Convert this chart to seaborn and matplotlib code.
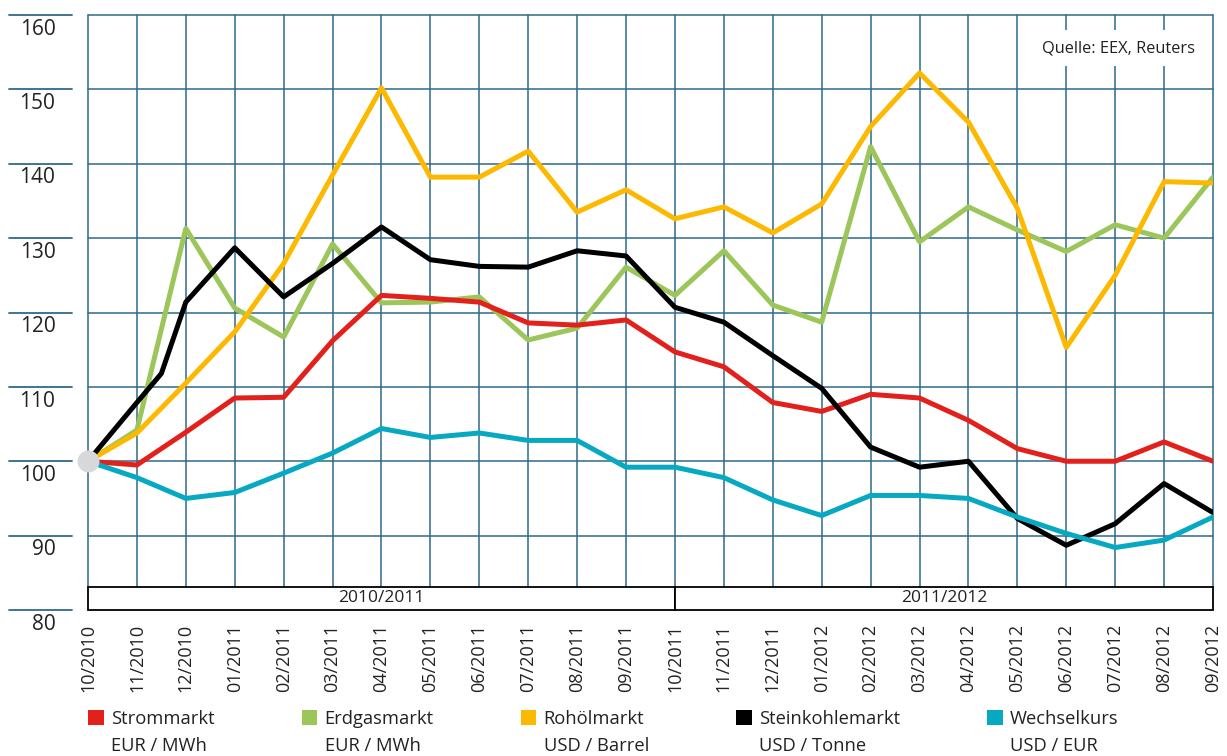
import numpy as np
import pandas as pd
import seaborn as sns
import matplotlib.pyplot as plt
from matplotlib.patches import Patch, Rectangle

# month labels (x axis)
months = ['10/2010', '11/2010', '12/2010', '01/2011', '02/2011', '03/2011',
          '04/2011', '05/2011', '06/2011', '07/2011', '08/2011', '09/2011',
          '10/2011', '11/2011', '12/2011', '01/2012', '02/2012', '03/2012',
          '04/2012', '05/2012', '06/2012', '07/2012', '08/2012', '09/2012']
month_pos = list(range(len(months)))

# index values (10/2010 = 100)
strom = [100, 99.5, 103.9, 108.5, 108.6, 116.2, 122.3, 121.9, 121.4, 118.6, 118.3, 119.0,
         114.7, 112.7, 107.9, 106.7, 109.0, 108.5, 105.5, 101.7, 100.0, 100.0, 102.6, 100.0]
erdgas = [100, 104.2, 131.3, 120.6, 116.7, 129.2, 121.3, 121.4, 122.1, 116.3, 117.9, 126.1,
          122.3, 128.3, 121.0, 118.7, 142.3, 129.5, 134.2, 131.1, 128.2, 131.8, 130.0, 138.2]
rohoel = [100, 103.8, 110.5, 117.4, 126.6, 138.5, 150.2, 138.2, 138.2, 141.7, 133.5, 136.5,
          132.6, 134.2, 130.7, 134.6, 145.0, 152.2, 145.6, 134.0, 115.3, 125.0, 137.6, 137.4]
# coal series has one extra reading in mid 11/2010
kohle_pos = [0, 1, 1.5] + list(range(2, 24))
kohle = [100, 107.9, 111.8, 121.4, 128.7, 122.1, 126.6, 131.5, 127.1, 126.2, 126.1, 128.3,
         127.6, 120.7, 118.7, 114.2, 109.8, 101.9, 99.2, 100.0, 92.3, 88.7, 91.6, 97.0, 93.1]
wechsel = [100, 97.8, 95.0, 95.8, 98.4, 101.1, 104.4, 103.2, 103.8, 102.8, 102.8, 99.2,
           99.2, 97.8, 94.8, 92.7, 95.4, 95.4, 95.0, 92.5, 90.3, 88.4, 89.4, 92.5]

series_names = ['Strommarkt', 'Erdgasmarkt', 'Rohölmarkt', 'Steinkohlemarkt', 'Wechselkurs']
units = ['EUR / MWh', 'EUR / MWh', 'USD / Barrel', 'USD / Tonne', 'USD / EUR']
colors = ['#e3211c', '#9cc65a', '#fcb900', '#000000', '#07a9c2']
draw_order = ['Erdgasmarkt', 'Rohölmarkt', 'Strommarkt', 'Steinkohlemarkt', 'Wechselkurs']

periods = ['2010/2011', '2011/2012']
period_bounds = [(0, 12), (12, 23)]
yticks = [80, 90, 100, 110, 120, 130, 140, 150, 160]

df = pd.concat([
    pd.DataFrame({'x': month_pos, 'wert': strom, 'reihe': 'Strommarkt'}),
    pd.DataFrame({'x': month_pos, 'wert': erdgas, 'reihe': 'Erdgasmarkt'}),
    pd.DataFrame({'x': month_pos, 'wert': rohoel, 'reihe': 'Rohölmarkt'}),
    pd.DataFrame({'x': kohle_pos, 'wert': kohle, 'reihe': 'Steinkohlemarkt'}),
    pd.DataFrame({'x': month_pos, 'wert': wechsel, 'reihe': 'Wechselkurs'}),
])

sns.set_style('white')
plt.rcParams['font.family'] = ['Open Sans', 'DejaVu Sans']

gridc = '#2f6a8a'
txtc = '#222222'
fig = plt.figure(figsize=(12.27, 7.56), dpi=100)
ax = fig.add_axes([88 / 1227, 1 - 610 / 756, 1125 / 1227, 595 / 756])

pal = dict(zip(series_names, colors))
for i, name in enumerate(draw_order):
    sub = df[df['reihe'] == name]
    sns.lineplot(data=sub, x='x', y='wert', color=pal[name], linewidth=3.6,
                 estimator=None, sort=False, ax=ax, zorder=3 + i, legend=False)

# start point marker
ax.scatter([month_pos[0]], [strom[0]], s=250, color='#d7d8da', zorder=10, clip_on=False,
           linewidths=0)

band_top = 83.1
ax.set_xlim(0, 23)
ax.set_ylim(80, 160)

# grid
for xv in month_pos:
    ax.plot([xv, xv], [band_top, 160], color=gridc, lw=1.1, zorder=1, clip_on=False)
for yv in yticks[1:]:
    ax.plot([0, 23], [yv, yv], color=gridc, lw=1.1, zorder=1, clip_on=False)

# period band
for (a, b), lab in zip(period_bounds, periods):
    ax.add_patch(Rectangle((a, 80), b - a, band_top - 80, facecolor='white',
                           edgecolor='black', lw=1.3, zorder=2, clip_on=False))
    ax.text((a + b) / 2, (80 + band_top) / 2, lab, ha='center', va='center',
            fontsize=12.5, color=txtc, zorder=3)

for s in ax.spines.values():
    s.set_visible(False)

# y axis: detached tick lines with labels below them
ytr = ax.get_yaxis_transform()
for yv in yticks:
    ax.plot([-0.0702, -0.0142], [yv, yv], color=gridc, lw=1.3, transform=ytr, clip_on=False)
    ax.text(-0.029, yv - 1.9, str(yv), transform=ytr, ha='right', va='center',
            fontsize=15, color=txtc)
ax.set_yticks([])
ax.set_ylabel('')

ax.set_xticks(month_pos)
ax.set_xticklabels(months, rotation=90, fontsize=13, color=txtc)
ax.tick_params(axis='x', length=0, pad=10)
ax.set_xlabel('')

ax.text(0.984, 0.9445, 'Quelle: EEX, Reuters', transform=ax.transAxes, ha='right',
        va='center', fontsize=11.8, color=txtc, zorder=12,
        bbox=dict(facecolor='white', edgecolor='none', pad=7))

# legend: names on first row, units on second row
handles, labels = [], []
for name, unit, c in zip(series_names, units, colors):
    handles.append(Patch(facecolor=c, edgecolor='none'))
    labels.append(name)
    handles.append(Patch(facecolor='none', edgecolor='none'))
    labels.append(unit)
leg = fig.legend(handles, labels, ncol=5, loc='upper left',
                 bbox_to_anchor=(88 / 1227, 1 - 710 / 756), frameon=False,
                 fontsize=13.2, handlelength=0.85, handleheight=0.85,
                 handletextpad=0.4, columnspacing=4.75, labelspacing=0.5,
                 borderpad=0, borderaxespad=0)
for t in leg.get_texts():
    t.set_color(txtc)

fig.savefig('out.png', dpi=100)
